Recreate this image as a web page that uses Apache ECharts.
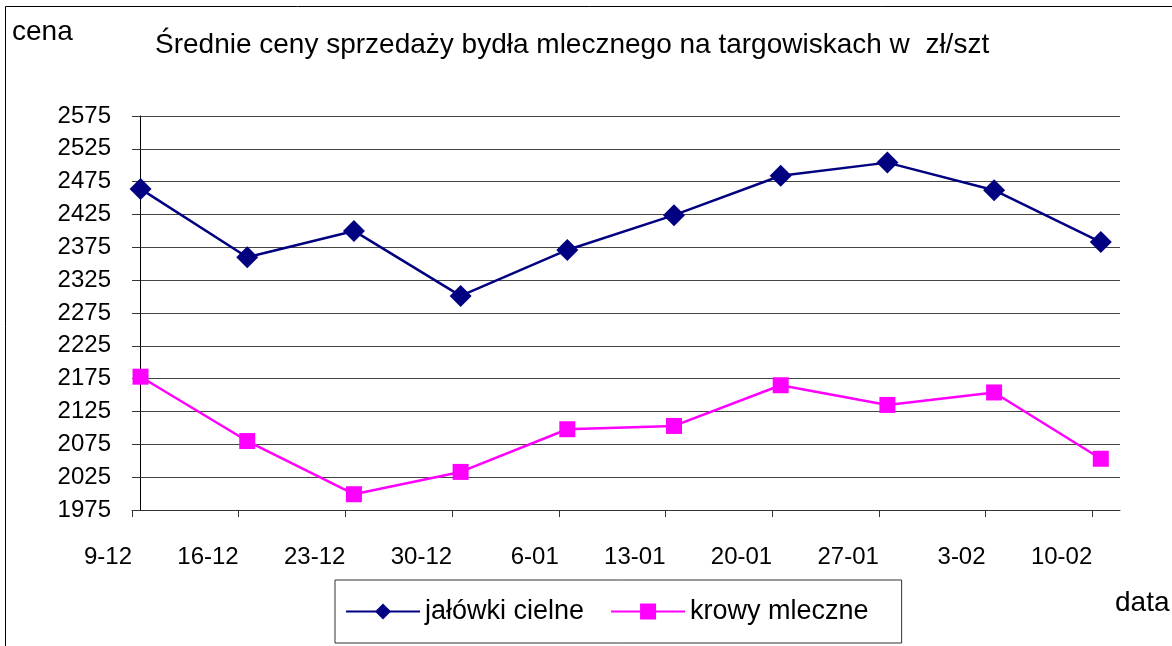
<!DOCTYPE html>
<html>
<head>
<meta charset="utf-8">
<script src="https://cdn.jsdelivr.net/npm/echarts@6/dist/echarts.min.js"></script>
<style>
  html, body { margin: 0; padding: 0; background: #ffffff; }
  #chart { width: 1172px; height: 646px; }
</style>
</head>
<body>
<div id="chart"></div>
<script>
  // daty notowań
  const dates = ['9-12', '16-12', '23-12', '30-12', '6-01', '13-01', '20-01', '27-01', '3-02', '10-02'];
  // ceny w zł/szt
  const jalowki = [2464, 2360, 2400, 2301, 2371, 2424, 2484, 2504, 2462, 2383];
  const krowy = [2178, 2080, 1999, 2033, 2098, 2103, 2165, 2135, 2154, 2053];
  const seriesNames = ['jałówki cielne', 'krowy mleczne'];
  const yMin = 1975, yMax = 2575, yStep = 50;

  const FONT = '"Liberation Sans", Arial, sans-serif';
  const chart = echarts.init(document.getElementById('chart'));

  // ticks sit a little to the left of each point, labels end at the tick
  const tickPos = dates.map((d, i) => i - 0.08);

  chart.setOption({
    animation: false,
    title: {
      text: 'Średnie ceny sprzedaży bydła mlecznego na targowiskach w  zł/szt',
      left: 150,
      top: 26,
      textStyle: { fontFamily: FONT, fontSize: 28, fontWeight: 'normal', color: '#000' }
    },
    graphic: [
      {
        type: 'rect',
        shape: { x: 5.5, y: 6.5, width: 1300, height: 800 },
        style: { fill: 'none', stroke: '#000', lineWidth: 1 },
        silent: true
      },
      {
        type: 'text',
        left: 12,
        top: 18,
        style: { text: 'cena', font: '28px ' + FONT, fill: '#000' }
      },
      {
        type: 'text',
        left: 1115,
        top: 589,
        style: { text: 'data', font: '28px ' + FONT, fill: '#000' }
      }
    ],
    legend: {
      left: 335,
      top: 580,
      padding: [18, 33, 18, 10],
      itemGap: 26,
      itemWidth: 74,
      itemHeight: 20,
      borderColor: '#333',
      borderWidth: 1,
      textStyle: { fontFamily: FONT, fontSize: 27, color: '#000' },
      data: seriesNames
    },
    grid: { left: 132, top: 116, width: 988, height: 394, containLabel: false },
    xAxis: {
      type: 'value',
      min: -0.08,
      max: 9.18,
      axisLine: { show: true, lineStyle: { color: '#333', width: 1 } },
      axisTick: { show: true, length: 7, lineStyle: { color: '#333' }, customValues: tickPos },
      axisLabel: {
        customValues: tickPos,
        formatter: v => dates[Math.round(v)],
        align: 'right',
        margin: 35,
        fontFamily: FONT,
        fontSize: 24,
        color: '#000'
      },
      splitLine: { show: false }
    },
    yAxis: {
      type: 'value',
      min: yMin,
      max: yMax,
      interval: yStep,
      axisLine: { show: true, lineStyle: { color: '#000', width: 1 } },
      axisTick: { show: true, length: 8, lineStyle: { color: '#333' } },
      axisLabel: { margin: 21, fontFamily: FONT, fontSize: 24, color: '#000', formatter: v => String(v) },
      splitLine: { show: true, lineStyle: { color: '#444', width: 1 } }
    },
    series: [
      {
        name: seriesNames[0],
        type: 'line',
        data: jalowki.map((v, i) => [i, v]),
        symbol: 'diamond',
        symbolSize: 22,
        lineStyle: { color: '#000080', width: 2.5 },
        itemStyle: { color: '#000080' }
      },
      {
        name: seriesNames[1],
        type: 'line',
        data: krowy.map((v, i) => [i, v]),
        symbol: 'rect',
        symbolSize: 16,
        lineStyle: { color: '#FF00FF', width: 2.5 },
        itemStyle: { color: '#FF00FF' }
      }
    ]
  });
</script>
</body>
</html>
